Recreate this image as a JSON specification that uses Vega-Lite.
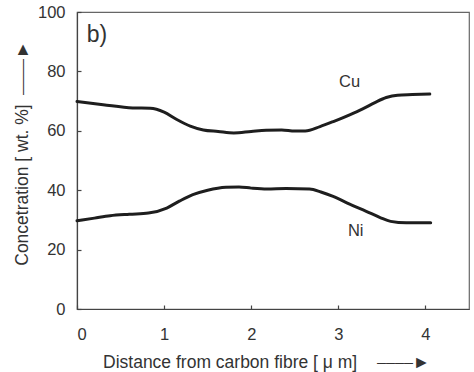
{
  "$schema": "https://vega.github.io/schema/vega-lite/v6.json",
  "autosize": "none",
  "width": 392,
  "height": 297,
  "padding": {"left": 77, "top": 12, "right": 5, "bottom": 63},
  "background": "white",
  "config": {
    "font": "Liberation Sans",
    "view": {"stroke": "#666", "strokeWidth": 1.2},
    "axis": {"grid": false, "domainColor": "#444", "domainWidth": 1.2, "tickColor": "#444", "tickWidth": 1.2, "labelColor": "#333", "titleColor": "#333", "labelFontSize": 16.5, "titleFontSize": 17.5, "titleFontWeight": "normal", "format": "d"}
  },
  "datasets": {
    "curves": [
      {"el": "Cu", "x": 0.0, "y": 69.9},
      {"el": "Cu", "x": 0.3, "y": 68.8},
      {"el": "Cu", "x": 0.64, "y": 67.7},
      {"el": "Cu", "x": 0.84, "y": 67.6},
      {"el": "Cu", "x": 1.0, "y": 66.3},
      {"el": "Cu", "x": 1.14, "y": 63.9},
      {"el": "Cu", "x": 1.3, "y": 61.6},
      {"el": "Cu", "x": 1.45, "y": 60.3},
      {"el": "Cu", "x": 1.62, "y": 59.8},
      {"el": "Cu", "x": 1.8, "y": 59.3},
      {"el": "Cu", "x": 2.0, "y": 59.8},
      {"el": "Cu", "x": 2.17, "y": 60.2},
      {"el": "Cu", "x": 2.35, "y": 60.3},
      {"el": "Cu", "x": 2.5, "y": 59.9},
      {"el": "Cu", "x": 2.62, "y": 59.9},
      {"el": "Cu", "x": 2.79, "y": 61.4},
      {"el": "Cu", "x": 2.95, "y": 63.2},
      {"el": "Cu", "x": 3.13, "y": 65.4},
      {"el": "Cu", "x": 3.28, "y": 67.4},
      {"el": "Cu", "x": 3.42, "y": 69.5},
      {"el": "Cu", "x": 3.55, "y": 71.2},
      {"el": "Cu", "x": 3.68, "y": 72.0},
      {"el": "Cu", "x": 3.85, "y": 72.2},
      {"el": "Cu", "x": 4.05, "y": 72.4},
      {"el": "Ni", "x": 0.0, "y": 29.7},
      {"el": "Ni", "x": 0.2, "y": 30.6},
      {"el": "Ni", "x": 0.38, "y": 31.4},
      {"el": "Ni", "x": 0.6, "y": 31.9},
      {"el": "Ni", "x": 0.82, "y": 32.3},
      {"el": "Ni", "x": 1.03, "y": 34.0},
      {"el": "Ni", "x": 1.18, "y": 36.4},
      {"el": "Ni", "x": 1.33, "y": 38.5},
      {"el": "Ni", "x": 1.5, "y": 40.0},
      {"el": "Ni", "x": 1.71, "y": 41.0},
      {"el": "Ni", "x": 1.86, "y": 41.1},
      {"el": "Ni", "x": 2.0, "y": 40.7},
      {"el": "Ni", "x": 2.18, "y": 40.4},
      {"el": "Ni", "x": 2.4, "y": 40.6},
      {"el": "Ni", "x": 2.67, "y": 40.4},
      {"el": "Ni", "x": 2.8, "y": 39.4},
      {"el": "Ni", "x": 2.94, "y": 37.9},
      {"el": "Ni", "x": 3.13, "y": 35.3},
      {"el": "Ni", "x": 3.32, "y": 32.9},
      {"el": "Ni", "x": 3.48, "y": 30.8},
      {"el": "Ni", "x": 3.6, "y": 29.5},
      {"el": "Ni", "x": 3.78, "y": 29.0},
      {"el": "Ni", "x": 3.92, "y": 29.0},
      {"el": "Ni", "x": 4.06, "y": 29.0}
    ],
    "labels": [
      {"t": "Cu", "x": 3.13, "y": 76.4, "s": 16.5},
      {"t": "Ni", "x": 3.2, "y": 26.1, "s": 16.5},
      {"t": "b)", "x": 0.23, "y": 92.2, "s": 23}
    ]
  },
  "layer": [
    {
      "data": {"name": "curves"},
      "mark": {"type": "line", "color": "#1e1e1e", "strokeWidth": 3, "interpolate": "monotone", "strokeCap": "round"},
      "encoding": {
        "x": {"field": "x", "type": "quantitative", "scale": {"domain": [0, 4.5], "nice": false},
          "axis": {"values": [0, 1, 2, 3, 4], "tickSize": -4, "labelPadding": 21, "title": "Distance from carbon fibre [ μ m]\u00a0\u00a0\u00a0\u00a0⎯⎯⎯⎯►", "titleX": 189, "titleY": 53, "titleBaseline": "middle", "titleAnchor": "middle", "titleAlign": "center"}},
        "y": {"field": "y", "type": "quantitative", "scale": {"domain": [0, 100], "nice": false},
          "axis": {"values": [0, 20, 40, 60, 80, 100], "tickSize": -4, "labelPadding": 16, "title": "Concetration [ wt. %]\u00a0\u00a0⎯⎯⎯⎯►", "titleX": -55, "titleY": 141, "titleBaseline": "middle", "titleAnchor": "middle", "titleAlign": "center", "titleAngle": -90}},
        "detail": {"field": "el"}
      }
    },
    {
      "data": {"name": "labels"},
      "mark": {"type": "text", "color": "#333", "align": "center", "baseline": "middle"},
      "encoding": {
        "x": {"field": "x", "type": "quantitative"},
        "y": {"field": "y", "type": "quantitative"},
        "text": {"field": "t"},
        "size": {"field": "s", "type": "quantitative", "scale": null}
      }
    }
  ]
}
